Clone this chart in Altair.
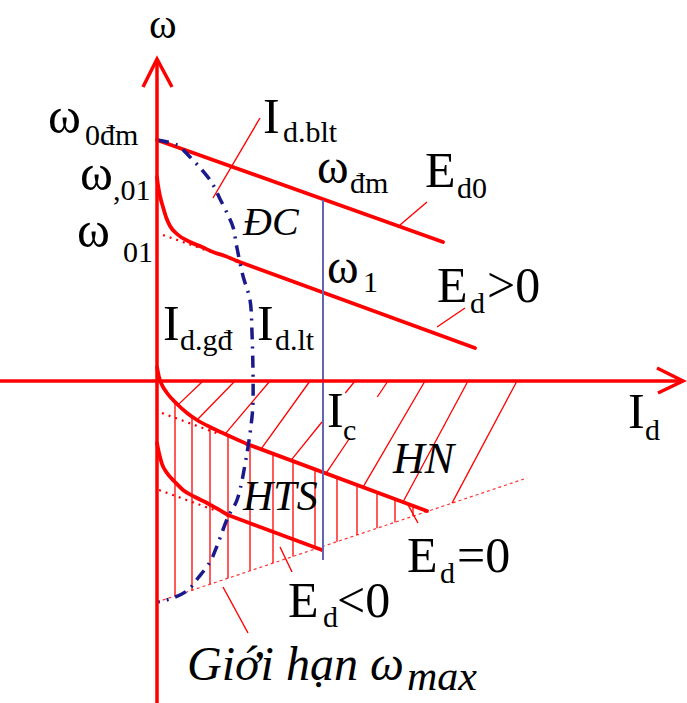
import altair as alt
import numpy as np
import pandas as pd

# Frame: Id to the right, omega upward, origin where the two axes cross.
X_DOMAIN = [-157, 530]
Y_DOMAIN = [-322, 381]

RED = "#ff0000"
NAVY = "#1a1a8c"
SLATE = "#6464b4"
FONT = "Liberation Serif"

# ---- speed/current characteristics ---------------------------------------
# Ed0: rated no-load speed, continuous current over the whole range
ed0_id = [0, 286]
ed0_w = [241, 139]

# Ed>0: discontinuous-current knee starting at omega'01, then the straight part
edp_id = [0, 1, 3, 6, 9, 13, 20, 33, 45, 56, 68, 80]
edp_w = [204, 196, 185, 174, 164, 155, 147, 139, 134, 129, 125, 120]
edp_line_id = [80, 318]
edp_line_w = [120, 33]

# Ed=0
edz_id = [0, 2, 5, 10, 20, 30, 40, 55, 70, 90]
edz_w = [14, 4, -4, -12, -23, -32, -39, -47, -54, -63]
edz_line_id = [90, 270]
edz_line_w = [-63, -130]

# Ed<0
edn_id = [0, 2, 5, 10, 18, 26, 38, 50, 71]
edn_w = [-62, -72, -83, -92, -101, -109, -116, -122, -134]
edn_line_id = [71, 165]
edn_line_w = [-134, -169]

# dotted continuations of the straight parts back to the omega axis
dot_id = {"Ed>0": [6, 60], "Ed=0": [5, 62], "Ed<0": [2, 60]}
dot_w = {"Ed>0": [146, 127], "Ed=0": [-32, -53], "Ed<0": [-109, -130]}

# maximum-speed limit
wmax_id = [0, 370]
wmax_w = [-221, -97]

# boundary between continuous and discontinuous current (Id.blt / Id.lt)
blt_id = [0, 20, 33, 45, 55, 63, 71, 76, 80, 86, 93, 95, 96, 96, 95, 90, 80,
          71, 60, 53, 41, 31, 16, 1]
blt_w = [241, 236, 224, 211, 198, 182, 166, 154, 133, 105, 81, 48, 8, -20,
         -36, -72, -119, -136, -165, -181, -197, -209, -217, -221]

# load current Ic
ic_id = [166, 166]
ic_w = [181, -179]

# hatching: slanted lines (regenerative braking, HN) and vertical lines (HTS)
hatch_top = [46, 78, 113, 153, 198, 231, 268, 311, 360]
hatch_foot = [21, 40, 68, 104, 134, 169, 206, 246, 295]
hatch_gap_hi = [0, 0, 0, 0, -12, -16, 0, 0, 0]
hatch_gap_lo = [0, 0, 0, 0, -41, -57, 0, 0, 0]
vhatch_id = [18, 35, 53, 71, 93, 116, 136, 158, 180, 200, 220, 238, 256]

# label leader lines
lead_x1 = [103, 270, 308, 250, 123, 66]
lead_y1 = [263, 179, 73, -122, -166, -206]
lead_x2 = [56, 243, 280, 261, 135, 91]
lead_y2 = [183, 156, 54, -142, -191, -252]

# axes
vaxis_id, vaxis_w = [0, 0], [-322, 322]
haxis_id, haxis_w = [-157, 526], [0, 0]
varrow_id, varrow_w = [-14, 0, 15], [294, 322, 294]
harrow_id, harrow_w = [500, 526, 501], [13, 0, -12]

# labels (left edge, baseline)
lab_txt = ["ω", "ω", "0đm", "ω", ",01", "ω", "01", "I", "d.blt", "ω", "đm",
           "E", "d0", "ω", "1", "E", "d", ">0", "I", "d.gđ", "I", "d.lt",
           "I", "c", "I", "d", "E", "d", "=0", "E", "d", "<0"]
lab_x = [-8, -109, -72, -77, -44, -80, -34, 106, 126, 160, 193,
         268, 300, 170, 206, 280, 313, 330, 6, 23, 100, 118,
         170, 186, 471, 488, 250, 283, 300, 131, 166, 180]
lab_y = [343, 248, 236, 191, 181, 134, 119, 248, 239, 198, 188,
         194, 183, 98, 89, 79, 68, 79, 41, 31, 41, 31,
         -46, -59, -47, -59, -191, -202, -191, -236, -246, -236]
lab_fs = [42, 50, 30, 50, 30, 50, 30, 50, 30, 48, 30,
          50, 30, 48, 30, 50, 30, 50, 50, 30, 50, 30,
          50, 30, 50, 30, 50, 30, 50, 50, 30, 50]

ital_txt = ["ĐC", "HN", "HTS", "Giới hạn ω", "max"]
ital_x = [86, 236, 86, 30, 250]
ital_y = [146, -92, -129, -299, -309]
ital_fs = [40, 44, 42, 48, 42]

# ---- tables ----------------------------------------------------------------
def path(xs, ys, name):
    return pd.DataFrame({"Id": xs, "w": ys, "curve": name, "i": range(len(xs))})


def ed_zero_at(x):
    return np.interp(x, edz_id + edz_line_id[1:], edz_w + edz_line_w[1:])


def lower_edge(x):
    return max(ed_zero_at(x), np.interp(x, wmax_id, wmax_w))


segs = []
for xt, xf, g1, g2 in zip(hatch_top, hatch_foot, hatch_gap_hi, hatch_gap_lo):
    yf = lower_edge(xf)
    x_at = lambda y: xt + (xf - xt) * (y / yf)
    if g1 == g2:
        segs.append((xt, 0.0, xf, yf))
    else:
        segs.append((xt, 0.0, x_at(g1), g1))
        segs.append((x_at(g2), g2, xf, yf))
for xv in vhatch_id:
    segs.append((xv, float(ed_zero_at(xv)), xv, float(np.interp(xv, wmax_id, wmax_w))))
hatch = pd.DataFrame(segs, columns=["Id", "w", "Id2", "w2"])

leads = pd.DataFrame({"Id": lead_x1, "w": lead_y1, "Id2": lead_x2, "w2": lead_y2})

knees = pd.concat([path(edp_id, edp_w, "Ed>0"), path(edz_id, edz_w, "Ed=0"),
                   path(edn_id, edn_w, "Ed<0")])
straights = pd.concat([path(ed0_id, ed0_w, "Ed0"),
                       path(edp_line_id, edp_line_w, "Ed>0"),
                       path(edz_line_id, edz_line_w, "Ed=0"),
                       path(edn_line_id, edn_line_w, "Ed<0")])
dots = pd.concat([path(dot_id[k], dot_w[k], k) for k in dot_id])
wmax = path(wmax_id, wmax_w, "wmax")
blt = path(blt_id, blt_w, "blt")
ic = path(ic_id, ic_w, "Ic")
axes = pd.concat([path(vaxis_id, vaxis_w, "w-axis"), path(haxis_id, haxis_w, "Id-axis"),
                  path(varrow_id, varrow_w, "w-arrow"), path(harrow_id, harrow_w, "Id-arrow")])
labels = pd.DataFrame({"t": lab_txt, "Id": lab_x, "w": lab_y, "fs": lab_fs})
ital = pd.DataFrame({"t": ital_txt, "Id": ital_x, "w": ital_y, "fs": ital_fs})

# ---- encodings --------------------------------------------------------------
xs = alt.Scale(domain=X_DOMAIN, nice=False, zero=False)
ys = alt.Scale(domain=Y_DOMAIN, nice=False, zero=False)
X = alt.X("Id:Q", scale=xs, axis=None)
Y = alt.Y("w:Q", scale=ys, axis=None)


def lines(df, **mark):
    return alt.Chart(df).mark_line(**mark).encode(
        x=X, y=Y, detail="curve:N", order="i:Q")


def rules(df, **mark):
    return alt.Chart(df).mark_rule(**mark).encode(
        x=X, y=Y, x2="Id2:Q", y2="w2:Q")


def texts(df, **mark):
    return alt.Chart(df).mark_text(align="left", baseline="alphabetic",
                                   font=FONT, color="black", **mark).encode(
        x=X, y=Y, text="t:N", size=alt.Size("fs:Q", scale=None, legend=None))


chart = alt.layer(
    rules(hatch, color=RED, strokeWidth=1.3),
    lines(wmax, color=RED, strokeWidth=1.2, strokeDash=[3, 3], opacity=0.8),
    lines(dots, color=RED, strokeWidth=2.2, strokeDash=[2, 5]),
    lines(knees, color=RED, strokeWidth=3.8, interpolate="monotone", strokeCap="round"),
    lines(straights, color=RED, strokeWidth=3.8, strokeCap="round"),
    lines(ic, color=SLATE, strokeWidth=2),
    lines(blt, color=NAVY, strokeWidth=3.5, strokeDash=[12, 7, 2, 7],
          interpolate="catmull-rom"),
    lines(axes, color=RED, strokeWidth=3.5),
    rules(leads, color=RED, strokeWidth=1.4),
    texts(labels),
    texts(ital, fontStyle="italic"),
).properties(width=687, height=703, padding=0, autosize="none").configure_view(stroke=None)

chart.save("out.html", embed_options={"renderer": "svg", "actions": False})
